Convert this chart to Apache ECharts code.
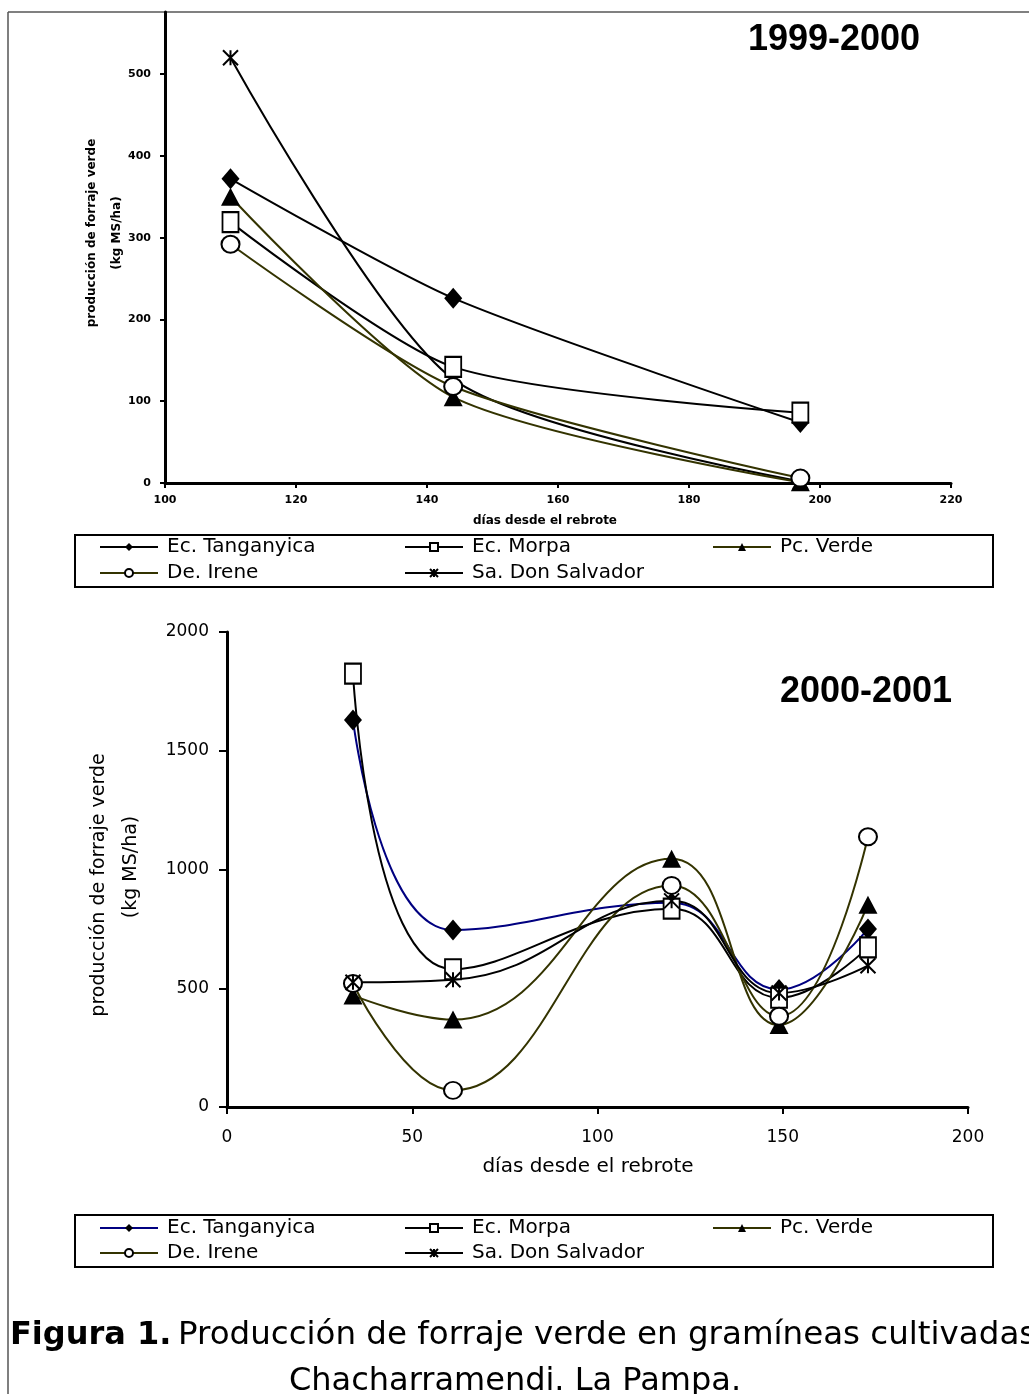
<!DOCTYPE html>
<html>
<head>
<meta charset="utf-8">
<script src="https://cdn.jsdelivr.net/npm/echarts@6/dist/echarts.min.js"></script>
<style>
html,body{margin:0;padding:0;background:#fff;}
#chart{width:1029px;height:1394px;}
</style>
</head>
<body>
<div id="chart"></div>
<script>
// ---------- DATA ----------
const seriesNames = ['Ec. Tanganyica', 'Ec. Morpa', 'Pc. Verde', 'De. Irene', 'Sa. Don Salvador'];

// 1999-2000 panel
const topDays = [110, 144, 197];
const topTanganyica = [372, 226, 74];
const topMorpa = [319, 142, 86];
const topVerde = [350, 105, 1];
const topIrene = [292, 118, 6];
const topSalvador = [520, 127, 2];
const topXTicks = [100, 120, 140, 160, 180, 200, 220];
const topYTicks = [0, 100, 200, 300, 400, 500];

// 2000-2001 panel
const bottomDays = [34, 61, 120, 149, 173];
const bottomTanganyica = [1630, 745, 860, 495, 750];
const bottomMorpa = [1825, 580, 835, 460, 672];
const bottomVerde = [470, 368, 1045, 345, 852];
const bottomIrene = [520, 70, 933, 382, 1138];
const bottomSalvador = [525, 536, 868, 480, 595];
const bottomXTicks = [0, 50, 100, 150, 200];
const bottomYTicks = [0, 500, 1000, 1500, 2000];

const topTitle = '1999-2000';
const bottomTitle = '2000-2001';
const xTitle = 'días desde el rebrote';
const yTitle1 = 'producción de forraje verde';
const yTitle2 = '(kg MS/ha)';
const captionBold = 'Figura 1.';
const captionLine1 = 'Producción de forraje verde en gramíneas cultivadas';
const captionLine2 = 'Chacharramendi. La Pampa.';

// ---------- STYLE ----------
const BLACK = '#000000', OLIVE = '#333300', NAVY = '#000080';
const ASTER = 'path://M0,0L10,10M10,0L0,10M5,0L5,10';

function pairs(xs, ys) { return xs.map((x, i) => [x, ys[i]]); }
const plain = v => String(v);

const markerDefs = [
  { symbol: 'diamond', size: [18, 21], item: { color: BLACK } },
  { symbol: 'rect', size: [16, 20], item: { color: '#fff', borderColor: BLACK, borderWidth: 2 } },
  { symbol: 'triangle', size: [19, 18], item: { color: BLACK } },
  { symbol: 'circle', size: [18, 17], item: { color: '#fff', borderColor: BLACK, borderWidth: 2 } },
  { symbol: ASTER, size: [15, 15], item: { color: BLACK, borderColor: BLACK, borderWidth: 2 } }
];
const topColors = [BLACK, BLACK, OLIVE, OLIVE, BLACK];
const bottomColors = [NAVY, BLACK, OLIVE, OLIVE, BLACK];
const topData = [topTanganyica, topMorpa, topVerde, topIrene, topSalvador];
const bottomData = [bottomTanganyica, bottomMorpa, bottomVerde, bottomIrene, bottomSalvador];

const series = [];
seriesNames.forEach((n, i) => {
  series.push({
    type: 'line', name: n, xAxisIndex: 0, yAxisIndex: 0,
    data: pairs(topDays, topData[i]), smooth: 0.25,
    symbol: markerDefs[i].symbol, symbolSize: markerDefs[i].size,
    itemStyle: markerDefs[i].item, lineStyle: { color: topColors[i], width: 2 },
    showAllSymbol: true, z: 3 + (i === 4 ? 0 : 1)
  });
});
seriesNames.forEach((n, i) => {
  series.push({
    type: 'line', name: n, xAxisIndex: 1, yAxisIndex: 1,
    data: pairs(bottomDays, bottomData[i]), smooth: 0.45,
    symbol: markerDefs[i].symbol, symbolSize: markerDefs[i].size,
    itemStyle: markerDefs[i].item, lineStyle: { color: bottomColors[i], width: 2 },
    showAllSymbol: true, z: 3
  });
});

// legends: 3 columns x 2 rows inside each box
const legendCols = [99, 404, 712];
const legendSlots = [[0, 0], [1, 0], [2, 0], [0, 1], [1, 1]];
const legendRowsTop = [548, 574];
const legendRowsBottom = [1229, 1254];
const legends = [];
function addLegends(rows, colors) {
  seriesNames.forEach((n, i) => {
    const [c, r] = legendSlots[i];
    legends.push({
      data: [{ name: n, lineStyle: { color: colors[i], width: 2 } }],
      left: legendCols[c], top: rows[r] - 11,
      padding: 0, itemWidth: 58, itemHeight: 10, itemGap: 0,
      selectedMode: false,
      textStyle: { color: '#000', fontFamily: 'DejaVu Sans', fontSize: 20, padding: [0, 0, 0, 4] }
    });
  });
}
addLegends(legendRowsTop, topColors);
addLegends(legendRowsBottom, bottomColors);

const smallBold = { color: '#000', fontFamily: 'DejaVu Sans', fontWeight: 'bold', fontSize: 11, formatter: plain };
const axLbl = { color: '#000', fontFamily: 'DejaVu Sans', fontSize: 17, formatter: plain };

const option = {
  animation: false,
  backgroundColor: '#fff',
  legend: legends,
  grid: [
    { left: 165, top: 12, width: 786, height: 471, containLabel: false, outerBoundsMode: 'none' },
    { left: 227, top: 632, width: 741, height: 475, containLabel: false, outerBoundsMode: 'none' }
  ],
  xAxis: [
    {
      gridIndex: 0, type: 'value', min: 100, max: 220, interval: 20,
      axisLine: { show: true, onZero: false, lineStyle: { color: '#000', width: 3 } },
      axisTick: { show: true, length: 5, lineStyle: { color: '#000', width: 2 } },
      axisLabel: Object.assign({ margin: 12, customValues: topXTicks }, smallBold),
      splitLine: { show: false }
    },
    {
      gridIndex: 1, type: 'value', min: 0, max: 200, interval: 50,
      axisLine: { show: true, onZero: false, lineStyle: { color: '#000', width: 3 } },
      axisTick: { show: true, length: 7, lineStyle: { color: '#000', width: 2 } },
      axisLabel: Object.assign({ margin: 22, customValues: bottomXTicks }, axLbl),
      splitLine: { show: false }
    }
  ],
  yAxis: [
    {
      gridIndex: 0, type: 'value', min: 0, max: 576, interval: 100,
      axisLine: { show: true, onZero: false, lineStyle: { color: '#000', width: 3 } },
      axisTick: { show: true, length: 5, customValues: topYTicks, lineStyle: { color: '#000', width: 2 } },
      axisLabel: Object.assign({ margin: 14, customValues: topYTicks }, smallBold),
      splitLine: { show: false }
    },
    {
      gridIndex: 1, type: 'value', min: 0, max: 2000, interval: 500,
      axisLine: { show: true, onZero: false, lineStyle: { color: '#000', width: 3 } },
      axisTick: { show: true, length: 8, lineStyle: { color: '#000', width: 2 } },
      axisLabel: Object.assign({ margin: 18, customValues: bottomYTicks }, axLbl),
      splitLine: { show: false }
    }
  ],
  series: series,
  graphic: [
    // figure frame (top + left edges visible)
    { type: 'line', shape: { x1: 8, y1: 12, x2: 1029, y2: 12 }, style: { stroke: '#808080', lineWidth: 2 }, silent: true },
    { type: 'line', shape: { x1: 8, y1: 12, x2: 8, y2: 1394 }, style: { stroke: '#555', lineWidth: 1.5 }, silent: true },
    // legend boxes
    { type: 'rect', shape: { x: 75, y: 535, width: 918, height: 52 }, style: { fill: 'none', stroke: '#000', lineWidth: 2 }, z: 0 },
    { type: 'rect', shape: { x: 75, y: 1215, width: 918, height: 52 }, style: { fill: 'none', stroke: '#000', lineWidth: 2 }, z: 0 },
    // panel titles
    { type: 'text', x: 834, y: 40, style: { text: topTitle, fill: '#000', fontFamily: 'Liberation Sans', fontWeight: 'bold', fontSize: 36, textAlign: 'center', textVerticalAlign: 'middle' } },
    { type: 'text', x: 866, y: 692, style: { text: bottomTitle, fill: '#000', fontFamily: 'Liberation Sans', fontWeight: 'bold', fontSize: 36, textAlign: 'center', textVerticalAlign: 'middle' } },
    // top axis titles
    { type: 'text', x: 545, y: 521, style: { text: xTitle, fill: '#000', fontFamily: 'DejaVu Sans', fontWeight: 'bold', fontSize: 12, textAlign: 'center', textVerticalAlign: 'middle' } },
    { type: 'text', x: 92, y: 233, rotation: Math.PI / 2, style: { text: yTitle1, fill: '#000', fontFamily: 'DejaVu Sans', fontWeight: 'bold', fontSize: 12, textAlign: 'center', textVerticalAlign: 'middle' } },
    { type: 'text', x: 117, y: 233, rotation: Math.PI / 2, style: { text: yTitle2, fill: '#000', fontFamily: 'DejaVu Sans', fontWeight: 'bold', fontSize: 12, textAlign: 'center', textVerticalAlign: 'middle' } },
    // bottom axis titles
    { type: 'text', x: 588, y: 1167, style: { text: xTitle, fill: '#000', fontFamily: 'DejaVu Sans', fontSize: 20, textAlign: 'center', textVerticalAlign: 'middle' } },
    { type: 'text', x: 99, y: 885, rotation: Math.PI / 2, style: { text: yTitle1, fill: '#000', fontFamily: 'DejaVu Sans', fontSize: 19, textAlign: 'center', textVerticalAlign: 'middle' } },
    { type: 'text', x: 131, y: 867, rotation: Math.PI / 2, style: { text: yTitle2, fill: '#000', fontFamily: 'DejaVu Sans', fontSize: 19, textAlign: 'center', textVerticalAlign: 'middle' } },
    // caption
    { type: 'text', x: 10, y: 1336, style: { text: captionBold, fill: '#000', fontFamily: 'DejaVu Sans', fontWeight: 'bold', fontSize: 32, textAlign: 'left', textVerticalAlign: 'middle' } },
    { type: 'text', x: 178, y: 1336, style: { text: captionLine1, fill: '#000', fontFamily: 'DejaVu Sans', fontSize: 32.5, textAlign: 'left', textVerticalAlign: 'middle' } },
    { type: 'text', x: 515, y: 1382, style: { text: captionLine2, fill: '#000', fontFamily: 'DejaVu Sans', fontSize: 32, textAlign: 'center', textVerticalAlign: 'middle' } }
  ]
};

const chart = echarts.init(document.getElementById('chart'), null, { renderer: 'canvas', width: 1029, height: 1394 });
chart.setOption(option);
</script>
</body>
</html>
